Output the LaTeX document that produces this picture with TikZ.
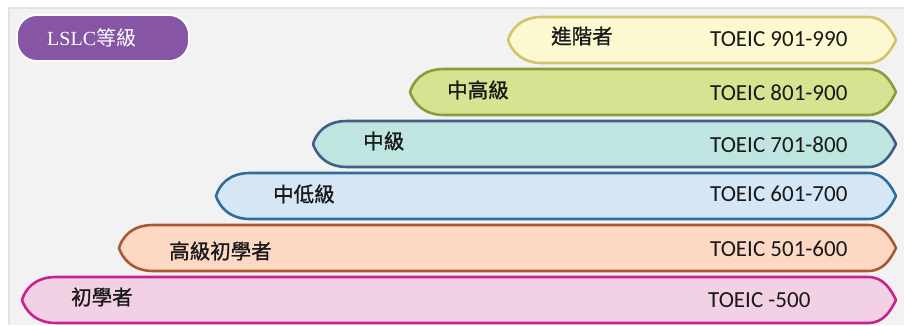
\documentclass[tikz,border=0pt]{standalone}
\usepackage{fontspec}
\setmainfont{Carlito}
\newfontfamily\cjkfont[AutoFakeBold=1.1]{Noto Sans CJK TC}
\newfontfamily\seriffont{Liberation Serif}
\definecolor{bgpanel}{HTML}{F2F2F2}
\definecolor{bgedge}{HTML}{E3E3E3}
\definecolor{fA}{HTML}{FCF8D0}\definecolor{dA}{HTML}{D2C46C}
\definecolor{fB}{HTML}{D6E391}\definecolor{dB}{HTML}{8C9B3E}
\definecolor{fC}{HTML}{BEE5E0}\definecolor{dC}{HTML}{3F5E86}
\definecolor{fD}{HTML}{D5E6F5}\definecolor{dD}{HTML}{2E6E9B}
\definecolor{fE}{HTML}{FDD9C5}\definecolor{dE}{HTML}{A9592F}
\definecolor{fF}{HTML}{F2D1E5}\definecolor{dF}{HTML}{C9228E}
\definecolor{lslc}{HTML}{8656A5}
\tikzset{
  barline/.style={line width=2.6pt, line join=round},
  toeic/.style={anchor=west, inner sep=0pt, font=\fontsize{23}{26}\selectfont, text=black!90},
  lvl/.style={anchor=west, inner sep=0pt, font=\cjkfont\bfseries\fontsize{20.5}{24}\selectfont, text=black!90},
}
\newcommand\lvlbar[4]{%
  \pgfmathsetmacro\bT{#2}\pgfmathsetmacro\bB{#2+46}\pgfmathsetmacro\bM{#2+23}%
  \draw[barline, fill=#3, draw=#4] ({#1+34},\bT) -- (868,\bT)
    .. controls (884,\bT) and (891,{\bM-10}) .. (896,\bM)
    .. controls (891,{\bM+10}) and (884,\bB) .. (868,\bB)
    -- ({#1+34},\bB)
    .. controls ({#1+12},\bB) and ({#1+3},{\bM+9}) .. (#1,\bM)
    .. controls ({#1+3},{\bM-10}) and ({#1+12},\bT) .. cycle;}
\begin{document}
\begin{tikzpicture}[x=1pt,y=-1pt]
\useasboundingbox (0,0) rectangle (904,325);
\fill[white] (0,0) rectangle (904,325);
\fill[bgpanel] (8,7) rectangle (904,325);
\draw[bgedge, line width=2pt] (9,325) -- (9,8) -- (904,8);
% LSLC box
\draw[fill=lslc, draw=white, line width=1.8pt, rounded corners=20pt] (17,15) rectangle (189,61);
\node[anchor=west, inner sep=0pt, text=white] (lslc) at (47,38) {\seriffont\fontsize{20}{24}\selectfont LSLC\cjkfont 等級};
% bars
\lvlbar{508}{17}{fA}{dA}
\lvlbar{410}{69}{fB}{dB}
\lvlbar{313}{121}{fC}{dC}
\lvlbar{216}{173}{fD}{dD}
\lvlbar{119}{225}{fE}{dE}
\lvlbar{22}{277}{fF}{dF}
% labels
\node[lvl] (l1) at (551,36) {進階者};
\node[lvl] (l2) at (447,90) {中高級};
\node[lvl] (l3) at (363,141) {中級};
\node[lvl] (l4) at (273,194) {中低級};
\node[lvl] (l5) at (169,251) {高級初學者};
\node[lvl] (l6) at (71,297) {初學者};
\node[toeic] (t1) at (710,39) {TOEIC 901-990};
\node[toeic] (t2) at (710,93) {TOEIC 801-900};
\node[toeic] (t3) at (710,145) {TOEIC 701-800};
\node[toeic] (t4) at (710,194) {TOEIC 601-700};
\node[toeic] (t5) at (710,249) {TOEIC 501-600};
\node[toeic] (t6) at (708,300) {TOEIC -500};
\end{tikzpicture}
\end{document}
